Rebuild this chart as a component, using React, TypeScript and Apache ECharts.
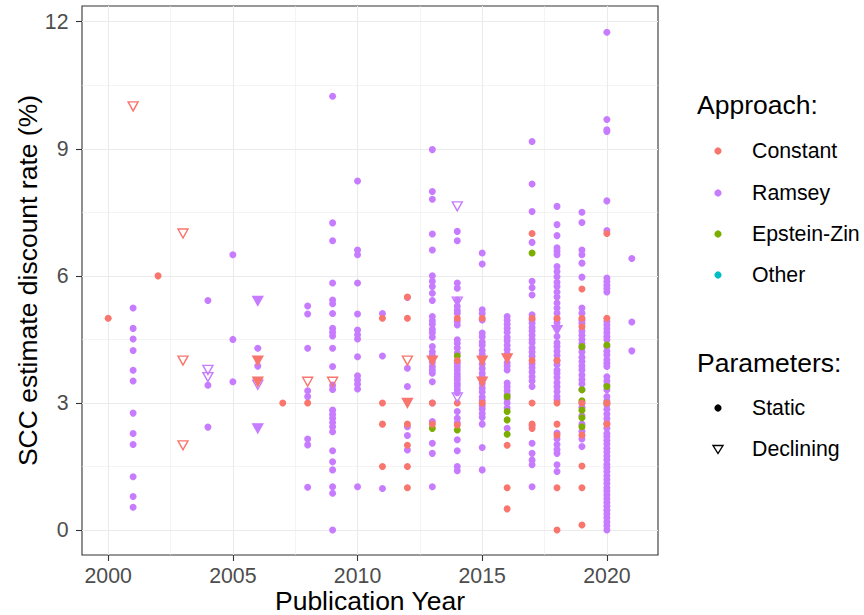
import React, { useEffect, useRef } from "react";
import * as echarts from "echarts";

// ---- axis ticks ----
const xTicks = [2000, 2005, 2010, 2015, 2020];
const xMinorTicks = [2002.5, 2007.5, 2012.5, 2017.5];
const yTicks = [0, 3, 6, 9, 12];
const yMinorTicks = [1.5, 4.5, 7.5, 10.5];

type YearGroup = [number, number[]];

// ---- data: [publication year, discount rates (%)] ----
const ramseyStatic: YearGroup[] = [
  [2001, [5.24, 4.76, 4.51, 4.24, 3.77, 3.52, 2.76, 2.28, 2.02, 1.26, 0.79, 0.54]],
  [2004, [5.42, 3.42, 2.43]],
  [2005, [6.5, 4.5, 3.5]],
  [2006, [4.29, 3.87]],
  [2008, [5.29, 5.1, 4.29, 3.29, 3.15, 2.15, 2.01, 1.01]],
  [2009, [10.24, 7.25, 6.83, 5.83, 5.43, 5.34, 5.11, 4.76, 4.67, 4.58, 4.29, 3.86, 3.42, 3.32, 2.83, 2.73, 2.64, 2.54, 2.44, 2.32, 1.87, 1.61, 1.42, 1.02, 0.87, 0]],
  [2010, [8.24, 6.61, 6.5, 5.83, 5.1, 4.72, 4.61, 4.51, 4.09, 3.64, 3.54, 3.44, 3.33, 1.02]],
  [2011, [5.11, 4.11, 0.98]],
  [2012, [5.49, 3.82, 3.39, 2.44, 2.23, 1.89]],
  [2013, [8.98, 7.99, 7.81, 6.99, 6.61, 6.0, 5.87, 5.75, 5.59, 5.42, 5.04, 4.94, 4.86, 4.74, 4.66, 4.55, 4.33, 4.21, 4.12, 3.96, 3.86, 3.78, 3.7, 3.5, 3.0, 2.56, 2.05, 1.81, 1.02]],
  [2014, [7.05, 6.83, 5.83, 5.71, 5.43, 5.28, 5.19, 5.12, 4.93, 4.84, 4.49, 4.41, 4.3, 4.18, 3.94, 3.86, 3.78, 3.69, 3.62, 3.55, 3.46, 3.4, 3.31, 3.24, 2.8, 2.64, 2.53, 2.13, 1.87, 1.5, 1.4]],
  [2015, [6.54, 6.28, 5.2, 5.11, 4.96, 4.65, 4.56, 4.44, 4.36, 4.24, 4.15, 3.92, 3.81, 3.7, 3.61, 3.46, 3.35, 3.26, 3.14, 3.06, 2.94, 2.86, 2.75, 2.66, 2.5, 1.95, 1.42]],
  [2016, [5.04, 4.95, 4.86, 4.76, 4.67, 4.55, 4.47, 4.36, 4.26, 4.15, 3.95, 3.87, 3.78, 3.47, 3.38, 3.29, 3.2, 3.1, 3.0, 2.88, 2.4]],
  [2017, [9.17, 8.17, 7.52, 6.79, 5.87, 5.72, 5.55, 5.08, 4.96, 4.88, 4.78, 4.7, 4.6, 4.5, 4.42, 4.3, 4.2, 4.1, 3.92, 3.83, 3.73, 3.62, 3.52, 3.39, 2.46, 2.05, 1.81, 1.65, 1.54, 1.02]],
  [2018, [7.64, 7.21, 6.95, 6.66, 6.58, 6.5, 6.22, 6.1, 5.98, 5.85, 5.75, 5.62, 5.5, 5.36, 5.24, 5.12, 4.98, 4.9, 4.8, 4.57, 4.42, 4.33, 4.22, 4.12, 4.0, 3.9, 3.78, 3.7, 3.6, 3.48, 3.38, 3.27, 3.15, 3.07, 2.29, 2.15, 2.02, 1.9, 1.81, 1.54, 1.38]],
  [2019, [7.5, 7.26, 6.61, 6.5, 6.3, 5.97, 5.24, 5.12, 4.95, 4.88, 4.7, 4.6, 4.5, 4.4, 4.3, 4.2, 4.08, 3.98, 3.87, 3.78, 3.66, 3.55, 3.45, 3.31, 3.0, 2.9, 2.7, 2.5, 2.33, 2.15, 1.97]],
  [2020, [11.75, 9.69, 9.45, 9.41, 7.77, 7.07, 5.95, 5.86, 5.78, 5.7, 5.62, 4.92, 4.84, 4.75, 4.66, 4.57, 4.49, 4.33, 4.22, 4.13, 4.02, 3.94, 3.86, 3.62, 3.52, 3.43, 3.31, 3.15, 3.05, 2.96, 2.85, 2.74, 2.63, 2.52, 2.4, 2.28, 2.21, 2.12, 2.03, 1.93, 1.84, 1.75, 1.66, 1.55, 1.47, 1.38, 1.28, 1.19, 1.1, 1.0, 0.92, 0.83, 0.74, 0.65, 0.56, 0.47, 0.38, 0.29, 0.19, 0.1, 0.0]],
  [2021, [6.41, 4.91, 4.23]],
];

const constantStatic: YearGroup[] = [
  [2000, [5]],
  [2002, [6]],
  [2007, [3]],
  [2008, [3]],
  [2011, [5, 3, 2.5, 1.5]],
  [2012, [5.5, 5, 2.5, 2, 1.5, 1]],
  [2013, [3, 2.5]],
  [2014, [5, 4, 3, 2.48]],
  [2015, [5, 3]],
  [2016, [2, 1, 0.5]],
  [2017, [7, 5, 4, 3, 2.5, 2.4]],
  [2018, [5, 4, 3, 2.5, 2.24, 1, 0]],
  [2019, [5.69, 5, 4.8, 3, 2.24, 1.51, 1, 0.12]],
  [2020, [7, 5, 3, 2.5]],
];

const epsteinZinStatic: YearGroup[] = [
  [2013, [2.4]],
  [2014, [4.11, 2.36]],
  [2016, [3.15, 2.8, 2.6, 2.26]],
  [2017, [6.54]],
  [2019, [4.33, 3.31, 3.05, 2.83, 2.65, 2.44]],
  [2020, [4.37, 3.39, 3.0]],
];

const constantDeclining: YearGroup[] = [
  [2001, [10]],
  [2003, [7, 4, 2]],
  [2008, [3.5]],
  [2009, [3.5]],
  [2012, [4]],
];
// overplotted (appear filled)
const constantDecliningStacked: YearGroup[] = [
  [2006, [4, 3.5]],
  [2012, [3]],
  [2013, [4]],
  [2015, [4, 3.5]],
  [2016, [4.05]],
];

const ramseyDeclining: YearGroup[] = [
  [2004, [3.78, 3.61]],
  [2006, [3.43]],
  [2014, [7.64, 5.39, 3.13]],
];
const ramseyDecliningStacked: YearGroup[] = [
  [2006, [5.41, 2.4]],
  [2018, [4.72]],
];

const approachLabels = ["Constant", "Ramsey", "Epstein-Zin", "Other"];
const approachColors = ["#F8766D", "#C77CFF", "#7CAE00", "#00BFC4"];
const parameterLabels = ["Static", "Declining"];

const flatten = (g: YearGroup[]) => g.flatMap(([yr, vals]) => vals.map((v) => [yr, v]));

const FONT = "'Liberation Sans', Arial, Helvetica, sans-serif";
const TITLE_SIZE = 26.5;
const TEXT_SIZE = 21.3;
const X_MIN = 1998.95, X_MAX = 2022.05;
const Y_MIN = -0.589, Y_MAX = 12.37;

const dotSeries = (name: string, data: YearGroup[], color: string, z: number) => ({
  type: "scatter",
  name,
  data: flatten(data),
  symbol: "circle",
  symbolSize: 7,
  itemStyle: { color, opacity: 1 },
  z,
  silent: true,
});

const triSeries = (name: string, data: YearGroup[], color: string, filled: boolean, z: number) => ({
  type: "scatter",
  name,
  data: flatten(data),
  symbol: "triangle",
  symbolRotate: 180,
  symbolSize: [10, 9],
  itemStyle: {
    color: filled ? color : "rgba(255,255,255,0)",
    borderColor: color,
    borderWidth: 1.4,
    opacity: 1,
  },
  z,
  silent: true,
});

function buildLegend() {
  const els: any[] = [];
  const lx = 718;
  const tx = 752;
  els.push({ type: "text", x: 697, y: 105, style: { text: "Approach:", fontSize: TITLE_SIZE, fontFamily: FONT, fill: "#000", verticalAlign: "middle" } });
  const ys = [151, 193, 234, 275];
  approachLabels.forEach((lab, i) => {
    els.push({ type: "circle", shape: { cx: lx, cy: ys[i], r: 3.6 }, style: { fill: approachColors[i] } });
    els.push({ type: "text", x: tx, y: ys[i], style: { text: lab, fontSize: TEXT_SIZE, fontFamily: FONT, fill: "#000", verticalAlign: "middle" } });
  });
  els.push({ type: "text", x: 697, y: 363, style: { text: "Parameters:", fontSize: TITLE_SIZE, fontFamily: FONT, fill: "#000", verticalAlign: "middle" } });
  els.push({ type: "circle", shape: { cx: lx, cy: 408, r: 3.6 }, style: { fill: "#000" } });
  els.push({ type: "text", x: tx, y: 408, style: { text: parameterLabels[0], fontSize: TEXT_SIZE, fontFamily: FONT, fill: "#000", verticalAlign: "middle" } });
  els.push({ type: "polygon", shape: { points: [[lx - 5, 445.5], [lx + 5, 445.5], [lx, 453.5]] }, style: { fill: "none", stroke: "#000", lineWidth: 1.4 } });
  els.push({ type: "text", x: tx, y: 449, style: { text: parameterLabels[1], fontSize: TEXT_SIZE, fontFamily: FONT, fill: "#000", verticalAlign: "middle" } });
  return els;
}

const option: any = {
  animation: false,
  backgroundColor: "#ffffff",
  grid: {
    left: 82, right: 206, top: 6, bottom: 60,
    outerBoundsMode: "none", containLabel: false,
    show: true, borderColor: "#333333", borderWidth: 1.1, backgroundColor: "#ffffff",
  },
  xAxis: [
    {
      type: "value", min: X_MIN, max: X_MAX,
      name: "Publication Year", nameLocation: "middle", nameGap: 46, nameMoveOverlap: false,
      nameTextStyle: { fontSize: TITLE_SIZE, color: "#000", fontFamily: FONT, verticalAlign: "middle", lineHeight: 27 },
      axisLine: { show: false, onZero: false },
      axisTick: { show: true, length: 6, lineStyle: { color: "#333333", width: 1.1 }, customValues: xTicks },
      axisLabel: { show: true, customValues: xTicks, fontSize: TEXT_SIZE, lineHeight: 20, color: "#4D4D4D", margin: 11, fontFamily: FONT, formatter: (v: number) => String(v) },
      splitLine: { show: true, lineStyle: { color: "#EBEBEB", width: 1.1 } },
    },
    {
      type: "value", min: X_MIN, max: X_MAX, position: "bottom",
      axisLine: { show: false, onZero: false },
      axisTick: { show: false, customValues: xMinorTicks },
      axisLabel: { show: false, customValues: xMinorTicks },
      splitLine: { show: true, lineStyle: { color: "#EBEBEB", width: 0.55 } },
    },
  ],
  yAxis: [
    {
      type: "value", min: Y_MIN, max: Y_MAX,
      name: "SCC estimate discount rate (%)", nameLocation: "middle", nameGap: 41, nameRotate: 90, nameMoveOverlap: false,
      nameTextStyle: { fontSize: TITLE_SIZE, color: "#000", fontFamily: FONT },
      axisLine: { show: false, onZero: false },
      axisTick: { show: true, length: 6, lineStyle: { color: "#333333", width: 1.1 }, customValues: yTicks },
      axisLabel: { show: true, customValues: yTicks, fontSize: TEXT_SIZE, color: "#4D4D4D", margin: 13.5, fontFamily: FONT, formatter: (v: number) => String(v) },
      splitLine: { show: true, lineStyle: { color: "#EBEBEB", width: 1.1 } },
    },
    {
      type: "value", min: Y_MIN, max: Y_MAX, position: "left",
      axisLine: { show: false, onZero: false },
      axisTick: { show: false, customValues: yMinorTicks },
      axisLabel: { show: false, customValues: yMinorTicks },
      splitLine: { show: true, lineStyle: { color: "#EBEBEB", width: 0.55 } },
    },
  ],
  series: [
    dotSeries("Ramsey", ramseyStatic, approachColors[1], 2),
    dotSeries("Epstein-Zin", epsteinZinStatic, approachColors[2], 3),
    dotSeries("Constant", constantStatic, approachColors[0], 4),
    triSeries("Ramsey declining", ramseyDeclining, approachColors[1], false, 5),
    triSeries("Ramsey declining (overplotted)", ramseyDecliningStacked, approachColors[1], true, 5),
    triSeries("Constant declining", constantDeclining, approachColors[0], false, 6),
    triSeries("Constant declining (overplotted)", constantDecliningStacked, approachColors[0], true, 6),
  ],
  graphic: buildLegend(),
};

export default function App() {
  const ref = useRef<HTMLDivElement>(null);
  useEffect(() => {
    const chart = echarts.init(ref.current!, null, { renderer: "svg" });
    chart.setOption(option);
    return () => chart.dispose();
  }, []);
  return (
    <div
      ref={ref}
      style={{ position: "fixed", left: 0, top: 0, width: 864, height: 615, background: "#fff" }}
    />
  );
}
